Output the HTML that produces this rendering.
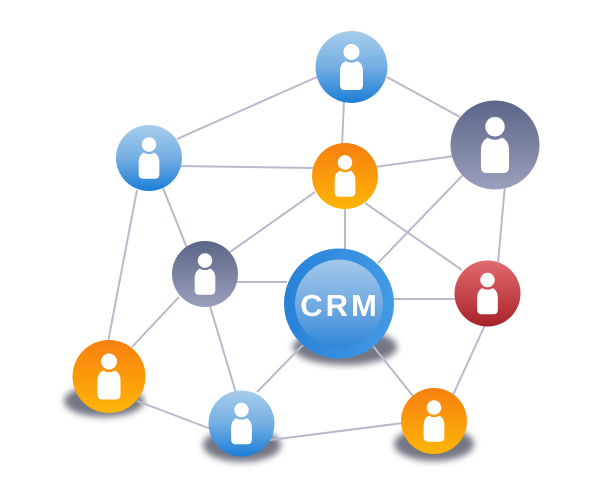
<!DOCTYPE html>
<html>
<head>
<meta charset="utf-8">
<style>
html,body{margin:0;padding:0;background:#fff;width:600px;height:500px;overflow:hidden}
svg{display:block}
</style>
</head>
<body>
<svg width="600" height="500" viewBox="0 0 600 500" xmlns="http://www.w3.org/2000/svg">
<defs>
<linearGradient id="blue" x1="0" y1="0" x2="0" y2="1">
<stop offset="0" stop-color="#a8cdec"/><stop offset=".5" stop-color="#74aee2"/><stop offset="1" stop-color="#1a7ed6"/>
</linearGradient>
<linearGradient id="gray" x1="0" y1="0" x2="0" y2="1">
<stop offset="0" stop-color="#5c6687"/><stop offset="1" stop-color="#9a9fbb"/>
</linearGradient>
<linearGradient id="orange" x1="0" y1="0" x2="0" y2="1">
<stop offset="0" stop-color="#f77f0f"/><stop offset="1" stop-color="#fdb507"/>
</linearGradient>
<linearGradient id="red" x1="0" y1="0" x2="0" y2="1">
<stop offset="0" stop-color="#e16b70"/><stop offset="1" stop-color="#a92229"/>
</linearGradient>
<linearGradient id="ring" x1="0" y1="0.5" x2="1" y2="0.5">
<stop offset="0" stop-color="#2781d6"/><stop offset="1" stop-color="#429ae6"/>
</linearGradient>
<linearGradient id="core" x1="0" y1="0" x2="0" y2="1">
<stop offset="0" stop-color="#a3c8ea"/><stop offset=".55" stop-color="#6ea8e0"/><stop offset="1" stop-color="#2f87da"/>
</linearGradient>
<filter id="soft" x="-30%" y="-50%" width="160%" height="200%"><feGaussianBlur stdDeviation="3.5"/></filter>
<g id="p" fill="#fff">
<circle cx="0" cy="-15" r="8"/>
<path d="M-6 -6 Q0 -2.500 6 -6 Q11.500 -3 11.500 4 V18 Q11.500 23 6.500 23 H-6.500 Q-11.500 23 -11.500 18 V4 Q-11.500 -3 -6 -6Z"/>
</g>
</defs>

<g fill="#747784" filter="url(#soft)">
<ellipse cx="345" cy="347" rx="52" ry="18"/>
<ellipse cx="104" cy="401" rx="40" ry="16"/>
<ellipse cx="242" cy="445" rx="39" ry="17"/>
<ellipse cx="434" cy="444" rx="40" ry="17"/>
</g>

<g stroke="#b9b9cd" stroke-width="2" fill="none">
<line x1="387" y1="77" x2="460" y2="117"/>
<line x1="317" y1="77" x2="177" y2="139"/>
<line x1="344" y1="100" x2="342" y2="146"/>
<line x1="375" y1="167" x2="455" y2="156"/>
<line x1="463" y1="175" x2="378" y2="263"/>
<line x1="505" y1="185" x2="498" y2="263"/>
<line x1="365" y1="203" x2="462" y2="270"/>
<line x1="345" y1="205" x2="345" y2="252"/>
<line x1="180" y1="166" x2="315" y2="168"/>
<line x1="163" y1="188" x2="187" y2="248"/>
<line x1="137" y1="190" x2="108" y2="342"/>
<line x1="230" y1="252" x2="315" y2="192"/>
<line x1="236" y1="282" x2="287" y2="282"/>
<line x1="179" y1="297" x2="132" y2="347"/>
<line x1="210" y1="306" x2="236" y2="393"/>
<line x1="137" y1="401" x2="211" y2="429"/>
<line x1="257" y1="392" x2="303" y2="345"/>
<line x1="270" y1="440" x2="403" y2="423"/>
<line x1="373" y1="346" x2="413" y2="396"/>
<line x1="392" y1="299" x2="456" y2="299"/>
<line x1="485" y1="325" x2="453" y2="395"/>
</g>

<circle cx="351.500" cy="67" r="36" fill="url(#blue)"/>
<use href="#p" transform="translate(351.500 67)"/>

<circle cx="495" cy="145" r="44.500" fill="url(#gray)"/>
<use href="#p" transform="translate(495 145) scale(1.220)"/>

<circle cx="345" cy="176" r="33" fill="url(#orange)"/>
<use href="#p" transform="translate(345 176) scale(.900)"/>

<circle cx="149" cy="158" r="33" fill="url(#blue)"/>
<use href="#p" transform="translate(149 158) scale(.900)"/>

<circle cx="205" cy="274" r="33" fill="url(#gray)"/>
<use href="#p" transform="translate(205 274) scale(.900)"/>

<circle cx="487.500" cy="293.500" r="33" fill="url(#red)"/>
<use href="#p" transform="translate(487.500 293.500) scale(.900)"/>

<circle cx="109" cy="376.500" r="36.500" fill="url(#orange)"/>
<use href="#p" transform="translate(109 376.500) scale(1)"/>

<circle cx="241.500" cy="423.500" r="33" fill="url(#blue)"/>
<use href="#p" transform="translate(241.500 423.500) scale(.900)"/>

<circle cx="434" cy="421" r="33" fill="url(#orange)"/>
<use href="#p" transform="translate(434 421) scale(.900)"/>

<circle cx="339" cy="303.500" r="55" fill="url(#ring)"/>
<circle cx="339" cy="303.500" r="44" fill="url(#core)"/>
<text x="340" y="316" text-anchor="middle" font-family="'Liberation Sans',sans-serif" font-weight="bold" font-size="31" letter-spacing="3" fill="#fff">CRM</text>
</svg>
</body>
</html>
